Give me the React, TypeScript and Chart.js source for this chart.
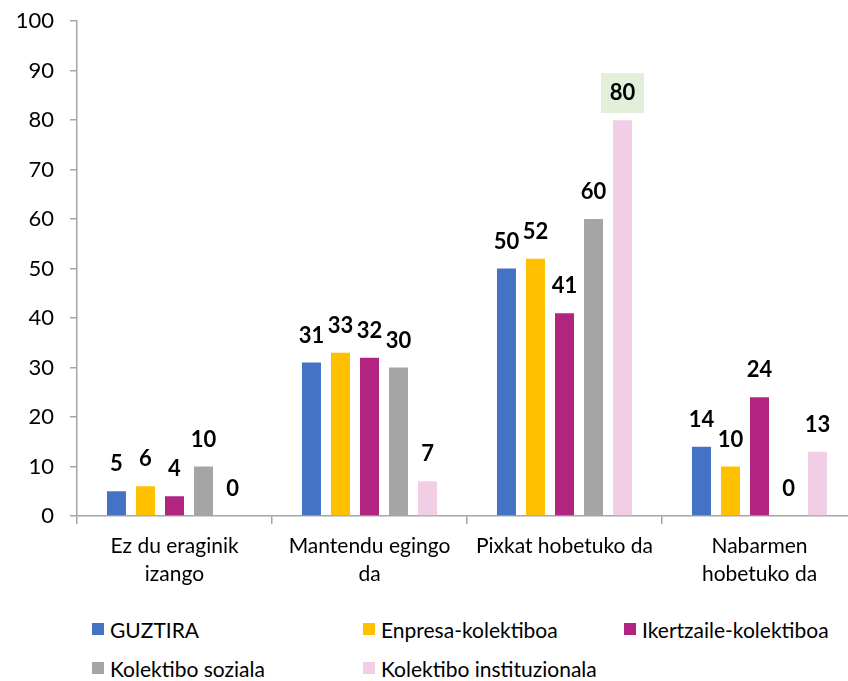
import React, { useEffect, useRef } from "react";
import { Chart, registerables } from "chart.js";

Chart.register(...registerables);

const categories: string[][] = [
  ["Ez du eraginik", "izango"],
  ["Mantendu egingo", "da"],
  ["Pixkat hobetuko da"],
  ["Nabarmen", "hobetuko da"],
];
const seriesNames = [
  "GUZTIRA",
  "Enpresa-kolektiboa",
  "Ikertzaile-kolektiboa",
  "Kolektibo soziala",
  "Kolektibo instituzionala",
];
const guztira = [5, 31, 50, 14];
const enpresa = [6, 33, 52, 10];
const ikertzaile = [4, 32, 41, 24];
const soziala = [10, 30, 60, 0];
const instituzionala = [0, 7, 80, 13];
const colors = ["#4472C4", "#FFC000", "#B1247F", "#A5A5A5", "#F2CDE6"];
const yTicks = [0, 10, 20, 30, 40, 50, 60, 70, 80, 90, 100];

const FONT = "Lato, 'Open Sans', sans-serif";

const labelPlugin = {
  id: "barLabels",
  afterDatasetsDraw(chart: any) {
    const ctx = chart.ctx;
    ctx.save();
    ctx.font = `bold 22px ${FONT}`;
    ctx.textAlign = "center";
    ctx.textBaseline = "middle";
    chart.data.datasets.forEach((ds: any, di: number) => {
      const meta = chart.getDatasetMeta(di);
      meta.data.forEach((bar: any, i: number) => {
        const v = ds.data[i];
        const txt = String(v);
        const cy = bar.y - 27;
        if (di === 4 && i === 2) {
          ctx.fillStyle = "#E2EFDA";
          ctx.fillRect(bar.x - 21.5, cy - 20, 43, 40);
        }
        ctx.fillStyle = "#000";
        ctx.fillText(txt, bar.x, cy);
      });
    });
    ctx.restore();
  },
};

export default function App() {
  const ref = useRef<HTMLCanvasElement>(null);
  useEffect(() => {
    if (!ref.current) return;
    const data = [guztira, enpresa, ikertzaile, soziala, instituzionala];
    const chart = new Chart(ref.current, {
      type: "bar",
      data: {
        labels: categories,
        datasets: seriesNames.map((n, i) => ({
          label: n,
          data: data[i],
          backgroundColor: colors[i],
          categoryPercentage: 0.744,
          barPercentage: 0.655,
        })),
      },
      options: {
        animation: false,
        responsive: false,
        maintainAspectRatio: false,
        layout: { padding: { left: 0, right: 13, top: 2, bottom: 0 } },
        plugins: { legend: { display: false }, tooltip: { enabled: false } },
        scales: {
          x: {
            grid: {
              offset: true,
              drawOnChartArea: false,
              drawTicks: true,
              tickLength: 8,
              color: "#A6A6A6",
              lineWidth: 1.5,
            },
            border: { color: "#A6A6A6", width: 1.5 },
            ticks: {
              color: "#000",
              font: { family: FONT, size: 21, lineHeight: 1.3 },
              padding: 9,
              maxRotation: 0,
              autoSkip: false,
            },
            afterFit: (s: any) => {
              s.height = 89;
            },
          },
          y: {
            min: 0,
            max: 100,
            afterBuildTicks: (s: any) => {
              s.ticks = yTicks.map((v) => ({ value: v }));
            },
            grid: {
              drawOnChartArea: false,
              drawTicks: true,
              tickLength: 7,
              color: "#A6A6A6",
              lineWidth: 1.5,
            },
            border: { color: "#A6A6A6", width: 1.5 },
            ticks: {
              color: "#000",
              font: { family: FONT, size: 22 },
              padding: 16,
            },
            afterFit: (s: any) => {
              s.width = 77;
            },
          },
        },
      },
      plugins: [labelPlugin],
    });
    return () => chart.destroy();
  }, []);

  const legendPos = [
    [92, 629],
    [363, 629],
    [624, 629],
    [92, 668],
    [363, 668],
  ];

  return (
    <div
      style={{
        position: "fixed",
        left: 0,
        top: 0,
        width: 870,
        height: 681,
        background: "#fff",
        overflow: "hidden",
      }}
    >
      <canvas
        ref={ref}
        width={870}
        height={613}
        style={{ display: "block", position: "absolute", left: 0, top: -8 }}
      />
      {seriesNames.map((n, i) => (
        <div
          key={n}
          style={{
            position: "absolute",
            left: legendPos[i][0],
            top: legendPos[i][1] - 13,
            height: 26,
            display: "flex",
            alignItems: "center",
            fontFamily: FONT,
            fontSize: 21,
            color: "#000",
            whiteSpace: "nowrap",
          }}
        >
          <span
            style={{
              display: "inline-block",
              width: 12,
              height: 12,
              background: colors[i],
              marginRight: 6,
            }}
          />
          {n}
        </div>
      ))}
    </div>
  );
}
